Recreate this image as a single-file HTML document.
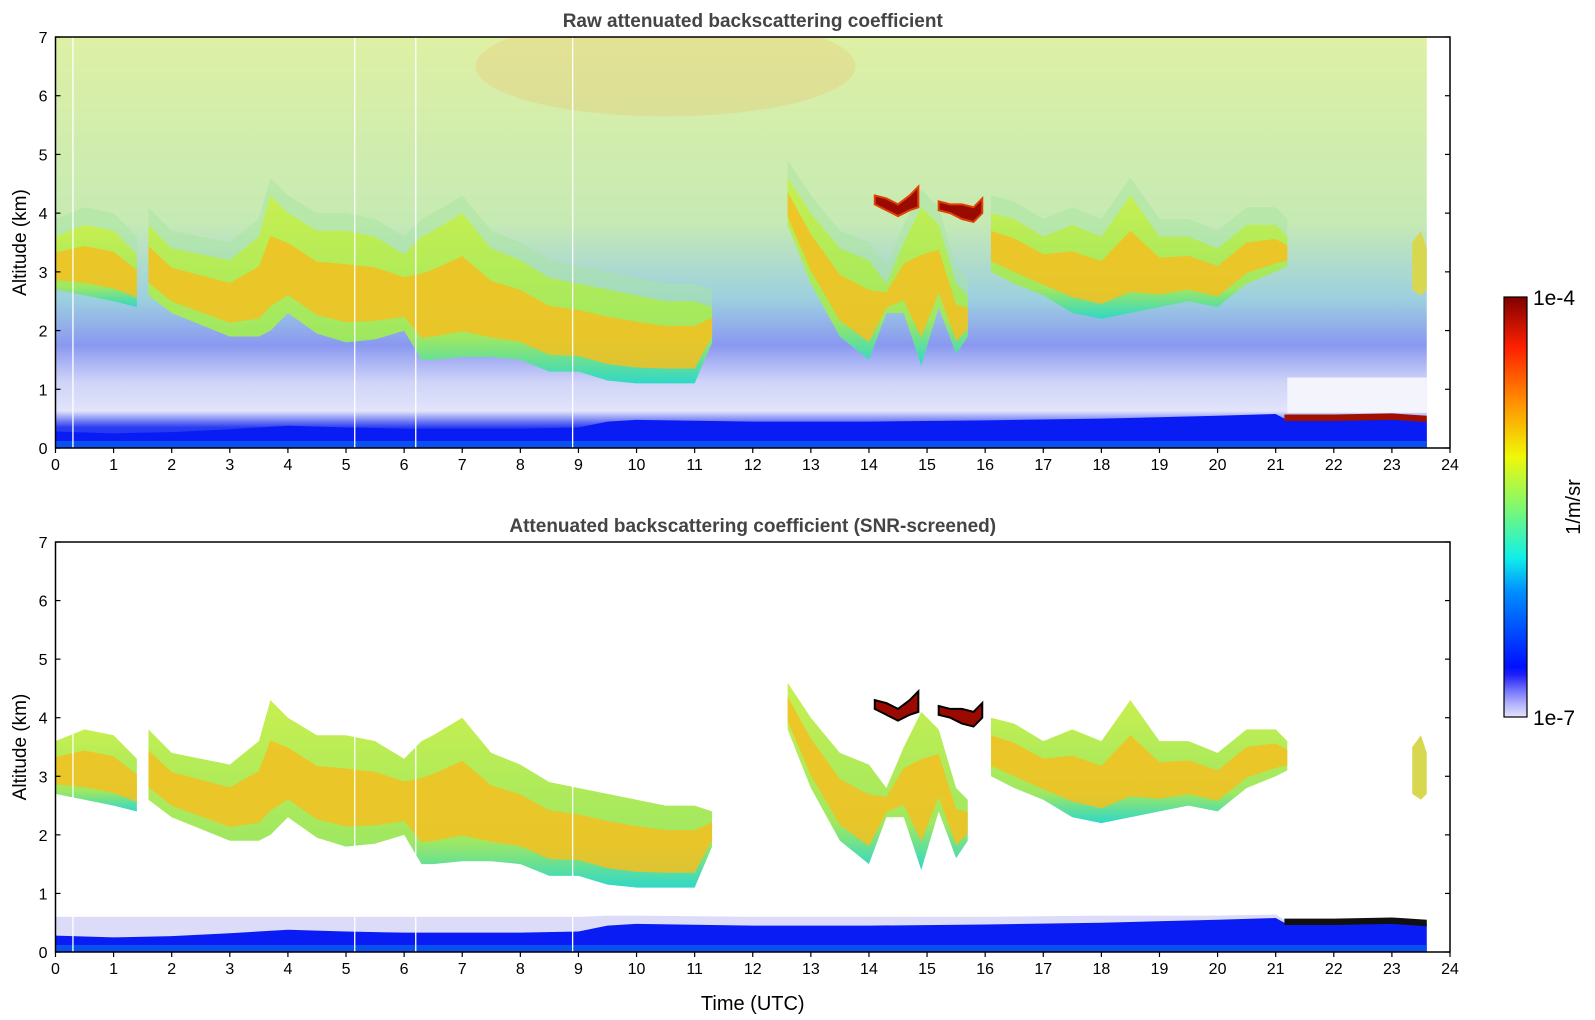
<!DOCTYPE html>
<html><head><meta charset="utf-8">
<style>
html,body{margin:0;padding:0;background:#fff;}
svg{display:block;font-family:"Liberation Sans","DejaVu Sans",sans-serif;}
</style></head>
<body>
<svg id="fig" width="1595" height="1020" viewBox="0 0 1595 1020" xmlns="http://www.w3.org/2000/svg">
<defs>
<linearGradient id="bgTop" x1="0" y1="1" x2="0" y2="0">
<stop offset="0" stop-color="#1535fa"/>
<stop offset="0.05" stop-color="#2a3cf0"/>
<stop offset="0.09" stop-color="#e2e4fa"/>
<stop offset="0.16" stop-color="#cfd4f8"/>
<stop offset="0.25" stop-color="#8a98f0"/>
<stop offset="0.36" stop-color="#9ccfe0"/>
<stop offset="0.55" stop-color="#c6eab4"/>
<stop offset="1" stop-color="#def0a4"/>
</linearGradient>
<linearGradient id="cloudG" x1="0" y1="1" x2="0" y2="0">
<stop offset="0" stop-color="#30d8c8"/>
<stop offset="0.25" stop-color="#a0e860"/>
<stop offset="1" stop-color="#c8ef50"/>
</linearGradient>
<linearGradient id="cbar" x1="0" y1="1" x2="0" y2="0">
<stop offset="0" stop-color="#e4e4fa"/>
<stop offset="0.03" stop-color="#b4b4fc"/>
<stop offset="0.06" stop-color="#7a7afc"/>
<stop offset="0.1" stop-color="#2020f8"/>
<stop offset="0.12" stop-color="#0010ff"/>
<stop offset="0.3" stop-color="#0090ff"/>
<stop offset="0.38" stop-color="#10f0e8"/>
<stop offset="0.5" stop-color="#80f870"/>
<stop offset="0.62" stop-color="#f0f808"/>
<stop offset="0.75" stop-color="#ff9000"/>
<stop offset="0.88" stop-color="#ff2000"/>
<stop offset="1" stop-color="#800000"/>
</linearGradient>
<clipPath id="clipTop"><rect x="55.5" y="37" width="1394.5" height="411"/></clipPath>
<clipPath id="clipBot"><rect x="55.5" y="542" width="1394.5" height="410"/></clipPath>
</defs>
<g id="top"></g>
<g id="bot"></g>
<g id="cb">
<rect x="1504" y="297" width="23" height="420" fill="url(#cbar)" stroke="#000" stroke-width="1.2"/>
<text x="1533" y="305" font-size="21">1e-4</text>
<text x="1533" y="725" font-size="21">1e-7</text>
<text transform="translate(1580,507) rotate(-90)" text-anchor="middle" font-size="20">1/m/sr</text>
</g>
</svg>
<script>
// ---- data (hours / km) ----
const cloudTime = [0,0.5,1.0,1.4,1.5,1.6,2.0,2.5,3.0,3.5,3.7,4.0,4.5,5.0,5.5,6.0,6.3,6.5,7.0,7.5,8.0,8.5,9.0,9.5,10,10.5,11,11.3,11.6,12.5,12.6,13,13.5,14,14.3,14.6,14.9,15.2,15.5,15.7,15.9,16.1,16.5,17,17.5,18,18.5,19,19.5,20,20.5,21,21.2];
const cloudBase = [2.7,2.6,2.5,2.4,null,2.6,2.3,2.1,1.9,1.9,2.0,2.3,1.95,1.8,1.85,2.0,1.5,1.5,1.55,1.55,1.5,1.3,1.3,1.15,1.1,1.1,1.1,1.8,null,null,3.8,2.8,1.9,1.5,2.3,2.3,1.4,2.4,1.6,1.9,null,3.0,2.8,2.6,2.3,2.2,2.3,2.4,2.5,2.4,2.8,3.0,3.1];
const cloudTop  = [3.6,3.8,3.7,3.3,null,3.8,3.4,3.3,3.2,3.6,4.3,4.0,3.7,3.7,3.6,3.3,3.6,3.7,4.0,3.4,3.2,2.9,2.8,2.7,2.6,2.5,2.5,2.4,null,null,4.6,4.0,3.4,3.2,2.8,3.5,4.1,3.8,2.8,2.6,null,4.0,3.9,3.6,3.8,3.6,4.3,3.6,3.6,3.4,3.8,3.8,3.6];
const blTime = [0,1,2,3,4,5,6,7,8,9,9.5,10,12,14,16,18,20,21,21.15,22,23,23.6];
const blTop  = [0.28,0.25,0.27,0.32,0.38,0.35,0.33,0.33,0.33,0.35,0.45,0.48,0.45,0.45,0.47,0.5,0.55,0.58,0.5,0.5,0.52,0.48];
const hazeTop = [0.6,0.6,0.6,0.6,0.6,0.6,0.6,0.6,0.6,0.6,0.62,0.62,0.6,0.6,0.6,0.62,0.62,0.64,0.55,0.55,0.58,0.55];
const smallCloudTime = [23.35,23.5,23.6];
const smallCloudBase = [2.7,2.6,2.7];
const smallCloudTop  = [3.5,3.7,3.4];
const denseCloudA = {t:[14.1,14.3,14.5,14.7,14.85], b:[4.15,4.05,3.95,4.05,4.1], tp:[4.3,4.25,4.15,4.3,4.45]};
const denseCloudB = {t:[15.2,15.4,15.6,15.8,15.95], b:[4.05,4.0,3.9,3.85,4.0], tp:[4.2,4.15,4.15,4.1,4.25]};
const gapTimes = [0.3,5.15,6.2,8.9];
const xTicks = [0,1,2,3,4,5,6,7,8,9,10,11,12,13,14,15,16,17,18,19,20,21,22,23,24];
const yTicks = [0,1,2,3,4,5,6,7];

const NS="http://www.w3.org/2000/svg";
const X0=55.5, X1=1450;
const xs = t => X0 + t*(X1-X0)/24;
const panels = {top:{y0:448,y1:37}, bot:{y0:952,y1:542}};
function mk(tag, attrs, parent){const e=document.createElementNS(NS,tag);for(const k in attrs)e.setAttribute(k,attrs[k]);parent.appendChild(e);return e;}
function segments(t,b){const segs=[];let cur=[];for(let i=0;i<t.length;i++){if(b[i]===null){if(cur.length)segs.push(cur);cur=[];}else cur.push(i);}if(cur.length)segs.push(cur);return segs;}
function polyPts(t,lo,hi,idx,ys){const up=idx.map(i=>xs(t[i])+','+ys(hi[i]));const dn=idx.slice().reverse().map(i=>xs(t[i])+','+ys(lo[i]));return up.concat(dn).join(' ');}

function drawPanel(key, raw){
  const p=panels[key]; const g=document.getElementById(key);
  const ys = a => p.y0 - a*(p.y0-p.y1)/7;
  const d = mk('g',{'clip-path':'url(#clip'+(key==='top'?'Top':'Bot')+')'},g);
  
  
  if(raw){
    const bg=mk('rect',{x:X0,y:p.y1,width:xs(23.6)-X0,height:p.y0-p.y1,fill:'url(#bgTop)'},d);
    
    
    const orange=mk('ellipse',{cx:xs(10.5),cy:ys(6.5),rx:190,ry:50,fill:'#f0b860',opacity:0.25},d);
    
    
    const wht=mk('rect',{x:xs(21.2),y:ys(1.2),width:xs(23.6)-xs(21.2),height:ys(0.6)-ys(1.2),fill:'#f4f4fd'},d);
    
    
  } else {
    const haze=mk('polygon',{points:polyPts(blTime,blTime.map(()=>0),hazeTop,blTime.map((_,i)=>i),ys),fill:'#dcdcf8'},d);
    
    
  }
  const segs=segments(cloudTime,cloudBase);
  segs.forEach(idx=>{
    if(raw){
      const h=mk('polygon',{points:polyPts(cloudTime,cloudBase,cloudTop.map(v=>v===null?null:v+0.3),idx,ys),fill:'#a8e6a0',opacity:0.5},d);
      
      
    }
    const c=mk('polygon',{points:polyPts(cloudTime,cloudBase,cloudTop,idx,ys),fill:'url(#cloudG)'},d);
    
    
    const lo=cloudBase.map((v,i)=>v===null?null:v+0.18*(cloudTop[i]-v));
    const hi=cloudBase.map((v,i)=>v===null?null:v+0.7*(cloudTop[i]-v));
    const ci=mk('polygon',{points:polyPts(cloudTime,lo,hi,idx,ys),fill:'#f4c020',opacity:0.85},d);
    
    
  });
  const sc=mk('polygon',{points:polyPts(smallCloudTime,smallCloudBase,smallCloudTop,[0,1,2],ys),fill:'#d8d850'},d);
  
  
  [denseCloudA,denseCloudB].forEach(dc=>{
    const idx=dc.t.map((_,i)=>i);
    const e=mk('polygon',{points:polyPts(dc.t,dc.b,dc.tp,idx,ys),fill:'#9a0a00',stroke:raw?'#e04000':'#000',"stroke-width":2},d);
    
    
  });
  const bl=mk('polygon',{points:polyPts(blTime,blTime.map(()=>0),blTop,blTime.map((_,i)=>i),ys),fill:'#0a1cf4'},d);
  
  
  const low=mk('rect',{x:X0,y:ys(0.12),width:xs(23.6)-X0,height:ys(0)-ys(0.12),fill:'#0a50f0'},d);
  
  
  const ai=[18,19,20,21];
  const al=mk('polygon',{points:polyPts(blTime,blTop.map(v=>v-0.04),blTop.map(v=>v+0.07),ai,ys),fill:raw?'#a01000':'#101010'},d);
  
  
  gapTimes.forEach(t=>{
    const l=mk('line',{x1:xs(t),x2:xs(t),y1:raw?p.y1:ys(3.8),y2:p.y0,stroke:'#fff','stroke-width':1.3},d);
    
    
  });
  const fr=mk('rect',{x:X0,y:p.y1,width:X1-X0,height:p.y0-p.y1,fill:'none',stroke:'#000','stroke-width':1.5},g);
  
  
  xTicks.forEach(t=>{
    const l=mk('line',{x1:xs(t),x2:xs(t),y1:p.y0,y2:p.y0+5,stroke:'#000','stroke-width':1.2},g);
    
    
    const tx=mk('text',{x:xs(t),y:p.y0+22,'text-anchor':'middle','font-size':16},g);
    tx.textContent=t;
    
    
  });
  yTicks.forEach(a=>{
    const l=mk('line',{x1:X0,x2:X0+5,y1:ys(a),y2:ys(a),stroke:'#000','stroke-width':1.2},g);
    
    
    const r=mk('line',{x1:X1-5,x2:X1,y1:ys(a),y2:ys(a),stroke:'#000','stroke-width':1.2},g);
    
    
    const tx=mk('text',{x:X0-8,y:ys(a)+6,'text-anchor':'end','font-size':16},g);
    tx.textContent=a;
    
    
  });
  const yl=mk('text',{transform:'translate(26,'+((p.y0+p.y1)/2)+') rotate(-90)','text-anchor':'middle','font-size':19},g);
  yl.textContent='Altitude (km)';
  
  
  const ti=mk('text',{x:(X0+X1)/2,y:p.y1-10,'text-anchor':'middle','font-size':19,'font-weight':'bold',fill:'#444'},g);
  ti.textContent=raw?'Raw attenuated backscattering coefficient':'Attenuated backscattering coefficient (SNR-screened)';
  
  
}
drawPanel('top',true);
drawPanel('bot',false);
const xl=mk('text',{x:(X0+X1)/2,y:1010,'text-anchor':'middle','font-size':20},document.getElementById('bot'));
xl.textContent='Time (UTC)';


</script>
</body></html>
